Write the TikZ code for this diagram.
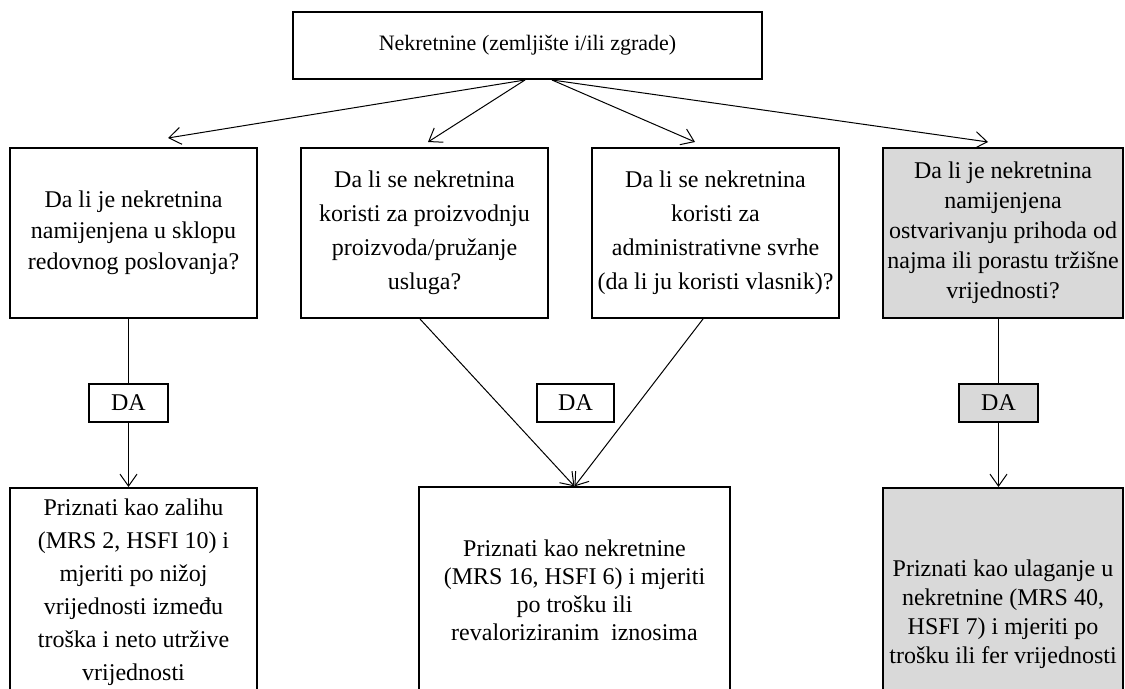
\documentclass[tikz,border=0pt]{standalone}
\usepackage{fontspec}
\setmainfont{Liberation Serif}
\usetikzlibrary{arrows.meta}
\definecolor{boxgray}{RGB}{217,217,217}
\tikzset{
  box/.style={draw, line width=1pt, align=center, inner sep=0pt,
    minimum width=123.5pt, minimum height=85pt, font=\fontsize{12}{15.5}\selectfont},
  yes/.style={draw, line width=1pt, inner sep=0pt, minimum width=39.5pt,
    minimum height=19pt, font=\fontsize{12}{14}\selectfont},
  shaded/.style={fill=boxgray},
  arr/.style={-{Straight Barb[length=6pt,width=8.5pt]}, line width=0.5pt},
}

\begin{document}
\begin{tikzpicture}[x=0.5pt,y=-0.5pt]
  \clip (0,0) rectangle (1125,689);
  \node[box, minimum width=234.5pt, minimum height=33.5pt, font=\fontsize{11}{13}\selectfont] (N) at (527.5,45.5) {Nekretnine (zemljište i/ili zgrade)};

  \node[box] (Q1) at (133.5,233) {Da li je nekretnina\\namijenjena u sklopu\\redovnog poslovanja?};
  \node[box, font=\fontsize{12}{17}\selectfont] (Q2) at (424.5,233) {Da li se nekretnina\\koristi za proizvodnju\\proizvoda/pružanje\\usluga?};
  \node[box, font=\fontsize{12}{17}\selectfont] (Q3) at (715.5,233) {Da li se nekretnina\\koristi za\\administrativne svrhe\\(da li ju koristi vlasnik)?};
  \node[box, shaded, minimum width=120pt, font=\fontsize{12}{15}\selectfont] (Q4) at (1003,233) {Da li je nekretnina\\namijenjena\\ostvarivanju prihoda od\\najma ili porastu tržišne\\vrijednosti?};

  \node[yes] (DA1) at (128.5,403) {DA};
  \node[yes, minimum width=38.5pt] (DA2) at (575.5,403) {DA};
  \node[yes, shaded] (DA3) at (998.5,403) {DA};

  \node[box, minimum height=104pt, font=\fontsize{12}{16.5}\selectfont] (R1) at (133.5,592) {Priznati kao zalihu\\(MRS 2, HSFI 10) i\\mjeriti po nižoj\\vrijednosti između\\troška i neto utržive\\vrijednosti};
  \node[box, line width=0.6pt, minimum width=155.5pt, minimum height=103pt, font=\fontsize{12}{14}\selectfont] (R2) at (574.5,590) {Priznati kao nekretnine\\(MRS 16, HSFI 6) i mjeriti\\po trošku ili\\revaloriziranim\ \ iznosima};
  \node[box, shaded, minimum width=120pt, minimum height=126pt, font=\fontsize{12}{14.5}\selectfont] (R3) at (1003,614) {Priznati kao ulaganje u\\nekretnine (MRS 40,\\HSFI 7) i mjeriti po\\trošku ili fer vrijednosti};

  % Connect the nodes
  \draw[arr] ([xshift=-1.25pt]N.south) -- ([xshift=17.25pt,yshift=4.5pt]Q1.north);
  \draw[arr] ([xshift=-1.25pt]N.south) -- ([xshift=1.75pt,yshift=2.5pt]Q2.north);
  \draw[arr] ([xshift=12.25pt]N.south) -- ([xshift=-10.25pt,yshift=2.5pt]Q3.north);
  \draw[arr] ([xshift=12.25pt]N.south) -- ([xshift=-7.5pt,yshift=2.5pt]Q4.north);

  \draw[line width=0.5pt] (Q1.south -| DA1.north) -- (DA1.north);
  \draw[arr] (DA1.south) -- (DA1.south |- R1.north);
  \draw[arr] ([xshift=-2.25pt]Q2.south) -- (R2.north);
  \draw[arr] ([xshift=-6.25pt]Q3.south) -- (R2.north);
  \draw[line width=0.5pt] (Q4.south -| DA3.north) -- (DA3.north);
  \draw[arr] (DA3.south) -- (DA3.south |- R3.north);
\end{tikzpicture}
\end{document}
